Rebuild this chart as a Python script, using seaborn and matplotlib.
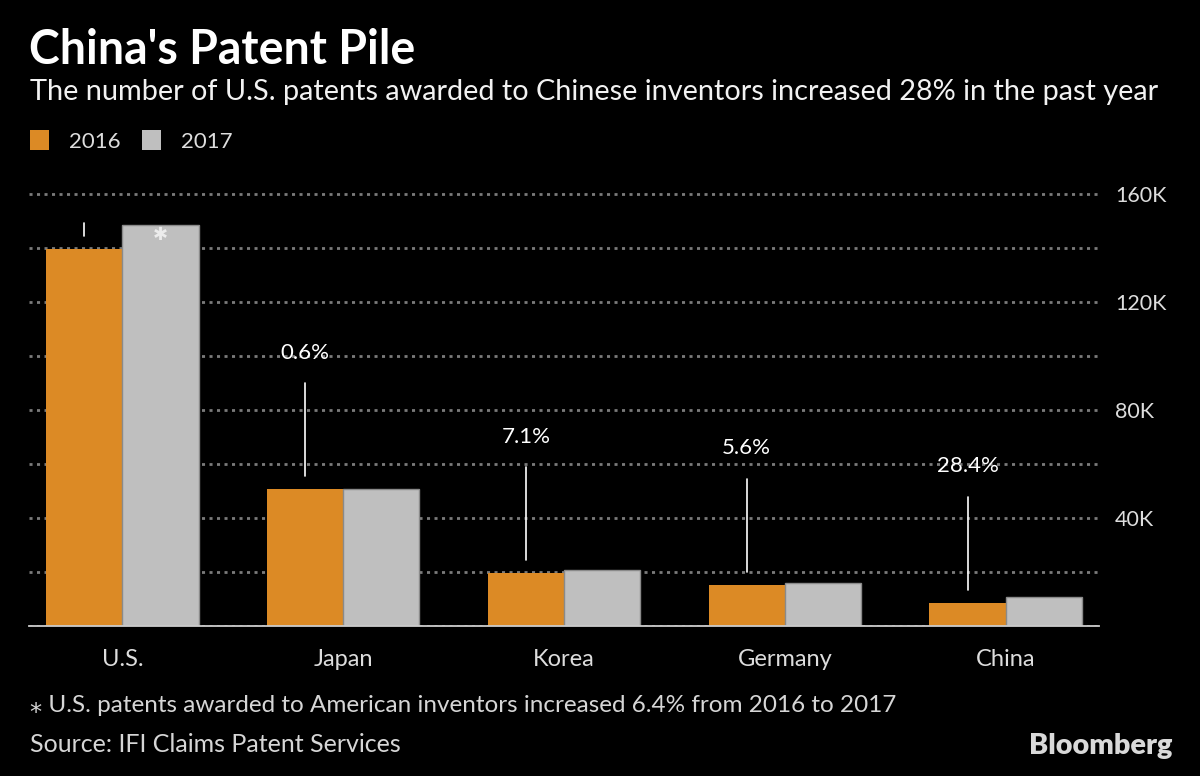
import seaborn as sns
import matplotlib.pyplot as plt
import pandas as pd

# data
countries = ['U.S.', 'Japan', 'Korea', 'Germany', 'China']
patents_2016 = [139500, 50600, 19500, 15200, 8500]
patents_2017 = [148400, 50900, 20900, 16000, 10900]
change_labels = ['', '0.6%', '7.1%', '5.6%', '28.4%']
y_ticks = [0, 20000, 40000, 60000, 80000, 100000, 120000, 140000, 160000]
y_tick_labels = ['', '', '40K', '', '80K', '', '120K', '', '160K']

ORANGE = '#dc8a25'
GREY = '#bfbfbf'

sns.set_theme(style='dark', rc={
    'figure.facecolor': 'black',
    'axes.facecolor': 'black',
    'text.color': 'white',
    'axes.labelcolor': 'white',
    'xtick.color': '#dddddd',
    'ytick.color': '#dddddd',
})
plt.rcParams['font.family'] = ['Lato', 'DejaVu Sans']

df = pd.DataFrame({
    'country': countries * 2,
    'patents': patents_2016 + patents_2017,
    'year': ['2016'] * len(countries) + ['2017'] * len(countries),
})

fig = plt.figure(figsize=(12, 7.76), dpi=100)
ax = fig.add_axes([29 / 1200, 1 - 626 / 776, 1070 / 1200, (626 - 180.5) / 776])

sns.barplot(data=df, x='country', y='patents', hue='year',
            palette=[ORANGE, GREY], width=0.69, saturation=1, gap=0,
            linewidth=0, ax=ax)

for p in ax.containers[1]:
    p.set_edgecolor('#8a8a8a')
    p.set_linewidth(1)

ax.set_xlim(-0.423, 4.423)
ax.set_ylim(0, 165000)
ax.set_xlabel('')
ax.set_ylabel('')

# y axis on the right, dotted grid every 20K
ax.yaxis.tick_right()
ax.set_yticks(y_ticks)
ax.set_yticklabels(y_tick_labels, fontsize=15.5, color='#dddddd')
ax.tick_params(axis='y', length=0, pad=11.5)
ax.tick_params(axis='x', length=6.5, width=1.1, color='#cccccc',
               pad=10, labelsize=17, labelcolor='#dddddd')
ax.set_axisbelow(True)
ax.yaxis.grid(True, color='#7a7a7a', linewidth=2, linestyle=(0, (1.1, 1.6)))
ax.xaxis.grid(False)
for side in ['top', 'left', 'right']:
    ax.spines[side].set_visible(False)
ax.spines['bottom'].set_color('#cccccc')
ax.spines['bottom'].set_linewidth(1.3)

# change annotations above the 2016 bars
for i, p in enumerate(ax.containers[0]):
    xc = p.get_x() + p.get_width() / 2
    base = patents_2016[i] + 4800
    if change_labels[i]:
        top = base + 34600
        ax.text(xc, top + 9000, change_labels[i], ha='center', va='baseline',
                fontsize=16, color='white')
    else:
        top = base + 5000
    ax.plot([xc, xc], [base, top], color='white', linewidth=1.2)

# asterisk on the U.S. 2017 bar
p = ax.containers[1][0]
ax.text(p.get_x() + p.get_width() / 2, patents_2017[0] - 3600, '\u2731',
        ha='center', va='center', fontsize=13, color='#ececec',
        family=['DejaVu Sans'])

# legend
h, l = ax.get_legend_handles_labels()
if ax.get_legend() is not None:
    ax.get_legend().remove()
fig.legend(h, l, loc='center left', bbox_to_anchor=(30 / 1200, 1 - 141 / 776),
           ncol=2, frameon=False, fontsize=16, handlelength=0.85,
           handleheight=1.0, handletextpad=0.9, columnspacing=0.95,
           borderpad=0, borderaxespad=0, labelcolor='#dddddd')

fig.text(29 / 1200, 1 - 50 / 776, "China's Patent Pile", fontsize=33.5,
         fontweight='bold', color='white', va='center')
fig.text(30 / 1200, 1 - 92 / 776,
         'The number of U.S. patents awarded to Chinese inventors increased 28% in the past year',
         fontsize=20.8, color='#f2f2f2', va='center')
fig.text(30 / 1200, 1 - 705 / 776,
         '\u204e U.S. patents awarded to American inventors increased 6.4% from 2016 to 2017',
         fontsize=17.5, color='#d6d6d6', va='center')
fig.text(30 / 1200, 1 - 744 / 776, 'Source: IFI Claims Patent Services',
         fontsize=18, color='#d6d6d6', va='center')
fig.text(1172 / 1200, 1 - 746 / 776, 'Bloomberg', fontsize=20.8,
         fontweight='heavy', color='#d9d9d9', ha='right', va='center')

fig.savefig('out.png', dpi=100, facecolor='black')
